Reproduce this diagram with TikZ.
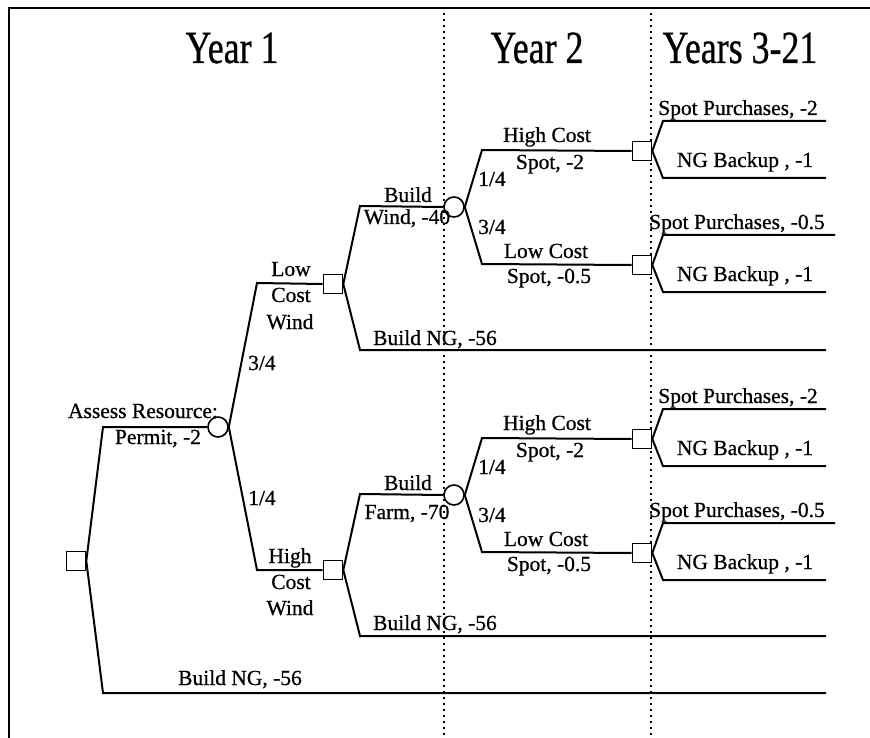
\documentclass[tikz,border=0pt]{standalone}
\usepackage{fontspec}
\setmainfont{Liberation Serif}
\newfontfamily\dtfont{Liberation Serif}[RawFeature={embolden=0.7}]
\usepackage{graphicx}
\tikzset{
  dec/.style={draw, rectangle, minimum size=19pt, inner sep=0pt, line width=1.6pt, fill=white},
  chn/.style={draw, circle, minimum size=20pt, inner sep=0pt, line width=1.6pt, fill=white},
  lbl/.style={anchor=base, inner sep=0pt, font=\dtfont\fontsize{21.5}{24}\selectfont},
  head/.style={anchor=base, inner sep=0pt, font=\dtfont\fontsize{46}{50}\selectfont},
  br/.style={line width=2pt},
  yeargrid/.style={line width=1.6pt, dash pattern=on 1.6pt off 4.4pt},
}
\newcommand\DTsub[2]{%
  \node[dec] (#1sa) at (642,{#2-56}) {};
  \node[dec] (#1sb) at (642,{#2+58}) {};
  \coordinate (#1ea) at (826,{#2-86});
  \coordinate (#1eb) at (826,{#2-29});
  \coordinate (#1ec) at (835,{#2+28});
  \coordinate (#1ed) at (826,{#2+85});
  \draw[br] (#1c.east) -- (482,{#2-57}) -- (#1sa.west);
  \draw[br] (#1c.east) -- (482,{#2+57}) -- (#1sb.west);
  \draw[br] (#1sa.east) -- (663,{#2-86}) -- (#1ea);
  \draw[br] (#1sa.east) -- (663,{#2-29}) -- (#1eb);
  \draw[br] (#1sb.east) -- (663,{#2+28}) -- (#1ec);
  \draw[br] (#1sb.east) -- (663,{#2+85}) -- (#1ed);
  \node[lbl] (#1t1) at (547,{#2-65}) {High Cost};
  \node[lbl] (#1t2) at (550,{#2-38}) {Spot, -2};
  \node[lbl] (#1t3) at (492,{#2-21}) {1/4};
  \node[lbl] (#1t4) at (492,{#2+27}) {3/4};
  \node[lbl] (#1t5) at (546,{#2+51}) {Low Cost};
  \node[lbl] (#1t6) at (549,{#2+76}) {Spot, -0.5};
  \node[lbl] (#1t7) at (738,{#2-92}) {Spot Purchases, -2};
  \node[lbl] (#1t8) at (745,{#2-40}) {NG Backup , -1};
  \node[lbl] (#1t9) at (737,{#2+22}) {Spot Purchases, -0.5};
  \node[lbl] (#1t10) at (745,{#2+74}) {NG Backup , -1};
}
\begin{document}
\begin{tikzpicture}[x=1pt,y=-1pt]
\useasboundingbox (0,0) rectangle (870,738);
% frame and year separators
\draw[line width=1.8pt] (9,738) -- (9,8) -- (870,8);
\draw[yeargrid] (444,13) -- (444,738);
\draw[yeargrid] (651,13) -- (651,738);
% headings
\node[head] (y1) at (232,63) {\scalebox{0.78}[1]{Year 1}};
\node[head] (y2) at (537,63) {\scalebox{0.78}[1]{Year 2}};
\node[head] (y3) at (740,63) {\scalebox{0.78}[1]{Years 3-21}};
% root
\node[dec] (root) at (76,561) {};
\node[chn] (c1) at (218,427) {};
\coordinate (e0) at (826,693);
\draw[br] (root.east) -- (103,427) -- (c1.west);
\draw[br] (root.east) -- (103,693) -- (e0);
\node[lbl] (tassess) at (143,418) {Assess Resource:};
\node[lbl] (tpermit) at (158,444) {Permit, -2};
\node[lbl] (tng0) at (240,685) {Build NG, -56};
% low cost wind
\node[dec] (s1) at (333,284) {};
\draw[br] (c1.east) -- (257,283) -- (s1.west);
\node[lbl] (tlow) at (291,276) {Low};
\node[lbl] (tcost1) at (291,302) {Cost};
\node[lbl] (twind1) at (290,329) {Wind};
\node[lbl] (tp34) at (262,370) {3/4};
\node[lbl] (tp14) at (262,505) {1/4};
\node[chn] (uc) at (454,207) {};
\coordinate (e1) at (826,350);
\draw[br] (s1.east) -- (360,206) -- (uc.west);
\draw[br] (s1.east) -- (360,350) -- (e1);
\node[lbl] (tbuild1) at (408,202) {Build};
\node[lbl] (twind2) at (407,224) {Wind, -40};
\node[lbl] (tng1) at (435,345) {Build NG, -56};
% high cost wind
\node[dec] (s2) at (333,570) {};
\draw[br] (c1.east) -- (257,570) -- (s2.west);
\node[lbl] (thigh) at (290,563) {High};
\node[lbl] (tcost2) at (291,589) {Cost};
\node[lbl] (twind3) at (290,615) {Wind};
\node[chn] (lc) at (454,495) {};
\coordinate (e2) at (826,636);
\draw[br] (s2.east) -- (360,494) -- (lc.west);
\draw[br] (s2.east) -- (360,636) -- (e2);
\node[lbl] (tbuild2) at (408,490) {Build};
\node[lbl] (tfarm) at (407,519) {Farm, -70};
\node[lbl] (tng2) at (435,630) {Build NG, -56};
% year 2 / years 3-21 subtrees
\DTsub{u}{207}
\DTsub{l}{495}
\end{tikzpicture}
\end{document}
